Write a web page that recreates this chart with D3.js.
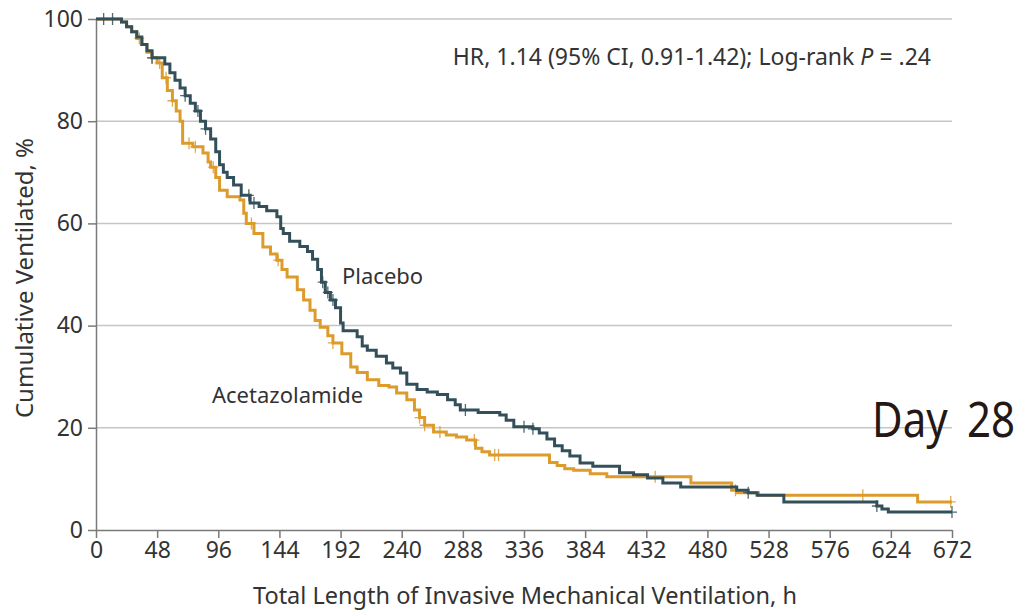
<!DOCTYPE html>
<html>
<head>
<meta charset="utf-8">
<script src="https://cdn.jsdelivr.net/npm/d3@7"></script>
<style>
  body { margin: 0; background: #fff; }
  text { font-family: "Noto Sans", "Open Sans", sans-serif; }
</style>
</head>
<body>
<div id="svgcontainer"></div>
<script>
// x ticks (hours) and y ticks (%)
var xTicks = [0, 48, 96, 144, 192, 240, 288, 336, 384, 432, 480, 528, 576, 624, 672];
var yTicks = [0, 20, 40, 60, 80, 100];

// placebo step curve: hour, % still ventilated
var placeboHours = [0, 20, 24, 28, 32, 36, 40, 44, 54, 58, 62, 66, 70, 74, 78, 82, 86, 90, 94, 97, 100, 103, 108, 114, 121, 128, 134, 142, 145, 147, 152, 160, 166, 170, 174, 177, 180, 184, 188, 192, 194, 205, 209, 213, 220, 228, 233, 239, 244, 252, 260, 268, 276, 282, 286, 300, 317, 322, 328, 343, 348, 354, 360, 366, 372, 380, 390, 411, 422, 433, 445, 459, 503, 512, 519, 540, 613, 617, 622, 626, 672];
var placeboPct   = [100, 99.4, 98.5, 97.5, 96.5, 95, 93.8, 92.4, 91.2, 89.5, 88, 86.5, 85, 83.5, 82, 80, 78.5, 76.5, 74, 71.5, 70, 69, 67.5, 65.5, 64, 63.3, 62.5, 61.3, 59, 58, 56.5, 55.5, 54.5, 53, 51, 48.5, 46.5, 45, 43.5, 40.5, 39, 37.8, 36, 35.2, 34, 32.7, 31.7, 30.7, 28.5, 27.5, 27, 26.5, 25.5, 24.5, 23.5, 23, 22.5, 21.5, 20.2, 19.8, 19, 17.8, 16.5, 15.5, 14.5, 13.1, 12.5, 11.2, 10.8, 10.2, 9.2, 8.4, 7.8, 7.3, 6.8, 5.5, 4.7, 4.1, 3.5, 3.5, 3.5];
var placeboCensor = [6, 13, 44, 70, 80, 86, 120, 124, 178, 182, 186, 290, 336, 343, 512, 613, 672];

// acetazolamide step curve
var acetaHours = [0, 20, 24, 28, 32, 36, 40, 44, 48, 52, 56, 60, 63, 66, 68, 76, 84, 88, 90, 94, 97, 103, 113, 116, 118, 124, 131, 137, 142, 146, 150, 158, 163, 168, 172, 176, 182, 186, 193, 200, 205, 213, 222, 230, 236, 244, 250, 254, 258, 265, 275, 283, 291, 298, 303, 309, 356, 362, 368, 375, 388, 401, 467, 499, 503, 520, 645, 672];
var acetaPct   = [100, 99.4, 98.5, 97.5, 96.2, 95, 93.5, 92.4, 91.4, 88.5, 86, 84, 82, 80, 75.7, 75, 73.8, 72, 71, 69, 66.5, 65.2, 64.6, 62, 60, 58, 55.4, 54, 52.8, 51, 49.5, 47, 45, 43, 41, 39.7, 38, 36.6, 34.5, 31.9, 30.8, 29.4, 28.3, 28, 26.8, 25.5, 23.5, 22, 20.5, 19.2, 18.6, 18.2, 17.6, 16, 15.3, 14.7, 13.2, 12.6, 12, 11.7, 11, 10.4, 9.2, 7.8, 7.3, 6.8, 5.5, 5.5];
var acetaCensor = [34, 44, 50, 55, 60, 73, 78, 92, 122, 143, 186, 254, 258, 270, 297, 313, 316, 439, 502, 602, 671];

var width = 1018, height = 613;
var placeboColor = "#33505a", acetaColor = "#dd9b2c";

var svg = d3.select("#svgcontainer")
    .append("svg")
    .attr("width", width)
    .attr("height", height);

var x = d3.scaleLinear().domain([0, 672]).range([96, 952]);
var y = d3.scaleLinear().domain([0, 100]).range([530, 19]);

// gridlines
svg.append("g").selectAll("line")
  .data(yTicks.filter(function(d){ return d > 0; }))
  .enter().append("line")
  .attr("x1", x(0)).attr("x2", x(672))
  .attr("y1", function(d){ return y(d); })
  .attr("y2", function(d){ return y(d); })
  .style("stroke", "#c6c6c6")
  .style("stroke-width", 1.5);

// axes
var xAxis = svg.append("g")
  .attr("transform", "translate(0," + y(0) + ")")
  .call(d3.axisBottom(x).tickValues(xTicks).tickSize(8).tickPadding(4).tickSizeOuter(0));
var yAxis = svg.append("g")
  .attr("transform", "translate(" + x(0) + ",0)")
  .call(d3.axisLeft(y).tickValues(yTicks).tickSize(8).tickPadding(5).tickSizeOuter(0));

[xAxis, yAxis].forEach(function(a){
  a.select(".domain").style("stroke", "#7a7a7a").style("stroke-width", 1.5);
  a.selectAll(".tick line").style("stroke", "#7a7a7a").style("stroke-width", 1.5);
  a.selectAll(".tick text")
    .style("font-size", "23px")
    .style("fill", "#333")
    .style("font-family", "'Noto Sans', 'Open Sans', sans-serif");
});

function series(hours, pct){
  return hours.map(function(h, i){ return [h, pct[i]]; });
}
function valueAt(hours, pct, h){
  var v = pct[0];
  for (var i = 0; i < hours.length; i++) { if (hours[i] <= h) v = pct[i]; }
  return v;
}

var line = d3.line()
  .x(function(d){ return x(d[0]); })
  .y(function(d){ return y(d[1]); })
  .curve(d3.curveStepAfter);

function drawCurve(hours, pct, censor, color){
  svg.append("path")
    .datum(series(hours, pct))
    .attr("d", line)
    .style("fill", "none")
    .style("stroke", color)
    .style("stroke-width", 3);
  svg.append("g").selectAll("path")
    .data(censor)
    .enter().append("path")
    .attr("d", function(h){
      var cx = x(h), cy = y(valueAt(hours, pct, h));
      return "M" + (cx - 5) + "," + cy + "H" + (cx + 5) + "M" + cx + "," + (cy - 6) + "V" + (cy + 6);
    })
    .style("stroke", color)
    .style("stroke-width", 1.3)
    .style("opacity", 0.85);
}

drawCurve(acetaHours, acetaPct, acetaCensor, acetaColor);
drawCurve(placeboHours, placeboPct, placeboCensor, placeboColor);

// labels
svg.append("text")
  .attr("x", 342).attr("y", 284)
  .style("font-size", "22px").style("fill", "#333")
  .text("Placebo");
svg.append("text")
  .attr("x", 212).attr("y", 403)
  .style("font-size", "22px").style("fill", "#333")
  .text("Acetazolamide");

var hr = svg.append("text")
  .attr("x", 931).attr("y", 65)
  .attr("text-anchor", "end")
  .style("font-size", "23px").style("fill", "#333");
hr.append("tspan").text("HR, 1.14 (95% CI, 0.91-1.42); Log-rank ");
hr.append("tspan").style("font-style", "italic").text("P");
hr.append("tspan").text(" = .24");

svg.append("text")
  .attr("x", 525).attr("y", 604)
  .attr("text-anchor", "middle")
  .style("font-size", "23.5px").style("fill", "#333")
  .text("Total Length of Invasive Mechanical Ventilation, h");

svg.append("text")
  .attr("transform", "translate(33,278) rotate(-90)")
  .attr("text-anchor", "middle")
  .style("font-size", "24px").style("fill", "#333")
  .text("Cumulative Ventilated, %");

// "Day 28" stamp, slightly tall
var day = svg.append("g")
  .attr("transform", "translate(0,437) scale(1,1.18)")
  .style("font-family", "'Noto Sans CJK JP', sans-serif")
  .style("font-size", "42px").style("fill", "#231815");
day.append("text").attr("x", 872).attr("y", 0).text("Day");
day.append("text").attr("x", 1015).attr("y", 0).attr("text-anchor", "end").text("28");
</script>
</body>
</html>
